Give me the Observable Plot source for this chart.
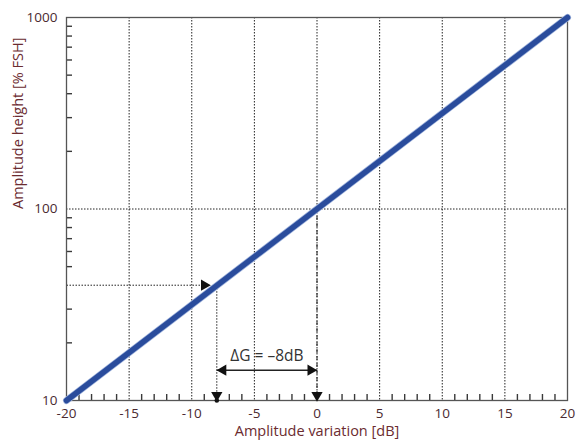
<!DOCTYPE html>
<html><head><meta charset="utf-8">
<script src="https://cdn.jsdelivr.net/npm/d3@7"></script>
<script src="https://cdn.jsdelivr.net/npm/@observablehq/plot@0.6"></script>
<style>body{margin:0;background:#fff}</style>
</head><body><div id="chart"></div>
<script>
const lineX = [-20, 20];
const lineY = [10, 1000];
const majorX = [-20, -15, -10, -5, 0, 5, 10, 15, 20];
const gridX = [-15, -10, -5, 0, 5, 10, 15];
const gridY = [100];
const minorX = [-19, -18, -17, -16, -14, -13, -12, -11, -9, -8, -7, -6, -4, -3, -2, -1, 1, 2, 3, 4, 6, 7, 8, 9, 11, 12, 13, 14, 16, 17, 18, 19];
const majorY = [10, 100, 1000];
const minorY = [20, 30, 50, 60, 70, 80, 90, 200, 300, 400, 500, 600, 700, 800, 900];
const readY = 40, readX = -8, refX = 0, refY = 100;
const deltaLabel = "ΔG = –8dB";

const lineData = lineX.map((x, i) => ({x, y: lineY[i]}));
const W = 576, H = 443, mL = 66, mR = 9, mT = 17, mB = 43, tickLen = 6;
const ink = "#222";
const labelColor = "#6b2b30";
const tickColor = "#4a2a30";

const chart = Plot.plot({
  width: W, height: H,
  marginLeft: mL, marginRight: mR, marginTop: mT, marginBottom: mB,
  style: {fontFamily: "Open Sans, sans-serif", fontSize: "13.5px", background: "#fff"},
  x: {domain: [-20, 20]},
  y: {type: "log", domain: [10, 1000]},
  marks: [
    Plot.ruleX(gridX, {stroke: ink, strokeDasharray: "1.5,1.5", strokeWidth: 1}),
    Plot.ruleY(gridY, {stroke: ink, strokeDasharray: "1.5,1.5", strokeWidth: 1}),
    Plot.tickX(minorX, {x: d => d, stroke: "#3a3a3a", strokeWidth: 1.4, insetTop: H - mT - mB - tickLen}),
    Plot.tickY(minorY, {y: d => d, stroke: "#3a3a3a", strokeWidth: 1.4, insetRight: W - mL - mR - tickLen}),
    Plot.axisX({ticks: majorX, tickSize: 0, tickPadding: 8, tickFormat: d => String(d), label: null, fill: tickColor, fontSize: 13.5}),
    Plot.axisY({ticks: majorY, tickSize: 0, tickPadding: 9, tickFormat: d => String(d), label: null, fill: tickColor, fontSize: 13.5}),
    Plot.text([0], {frameAnchor: "bottom", dy: 35, text: () => "Amplitude variation [dB]", fill: labelColor, fontSize: 14.5}),
    Plot.text([0], {frameAnchor: "left", dx: -48, rotate: -90, text: () => "Amplitude height [% FSH]", fill: labelColor, fontSize: 14.5}),
    Plot.link([{x1: -20, x2: readX - 0.5, y: readY}], {x1: "x1", x2: "x2", y1: "y", y2: "y", stroke: ink, strokeDasharray: "1.5,1.5"}),
    Plot.link([{x: readX, y1: readY, y2: 10}], {x1: "x", x2: "x", y1: "y1", y2: "y2", stroke: ink, strokeDasharray: "1.5,1.5"}),
    Plot.link([{x: refX, y1: refY, y2: 10}], {x1: "x", x2: "x", y1: "y1", y2: "y2", stroke: ink, strokeDasharray: "4,3"}),
    Plot.link([{x1: readX, x2: refX, y: 14.4}], {x1: "x1", x2: "x2", y1: "y", y2: "y", stroke: ink, strokeWidth: 1.5}),
    Plot.frame({stroke: "#555", strokeWidth: 1.3}),
    Plot.line(lineData, {x: "x", y: "y", stroke: "#9fb3dc", strokeWidth: 7}),
    Plot.line(lineData, {x: "x", y: "y", stroke: "#2a4c9c", strokeWidth: 5.5}),
    Plot.dot([{x: -9.0, y: readY, r: 90}, {x: readX, y: 10.65, r: 180}, {x: refX, y: 10.65, r: 180},
              {x: readX + 0.5, y: 14.4, r: -90}, {x: refX - 0.5, y: 14.4, r: 90}],
      {x: "x", y: "y", rotate: "r", symbol: "triangle", r: 4.2, fill: "#111", stroke: "none"}),
    Plot.dot([{x: readX, y: 10}], {x: "x", y: "y", r: 2.3, fill: "#111"}),
    Plot.text([{x: -4, y: 17}], {x: "x", y: "y", text: () => deltaLabel, fill: "#333", fontSize: 15.5})
  ]
});
document.getElementById("chart").appendChild(chart);
</script>
</body></html>
